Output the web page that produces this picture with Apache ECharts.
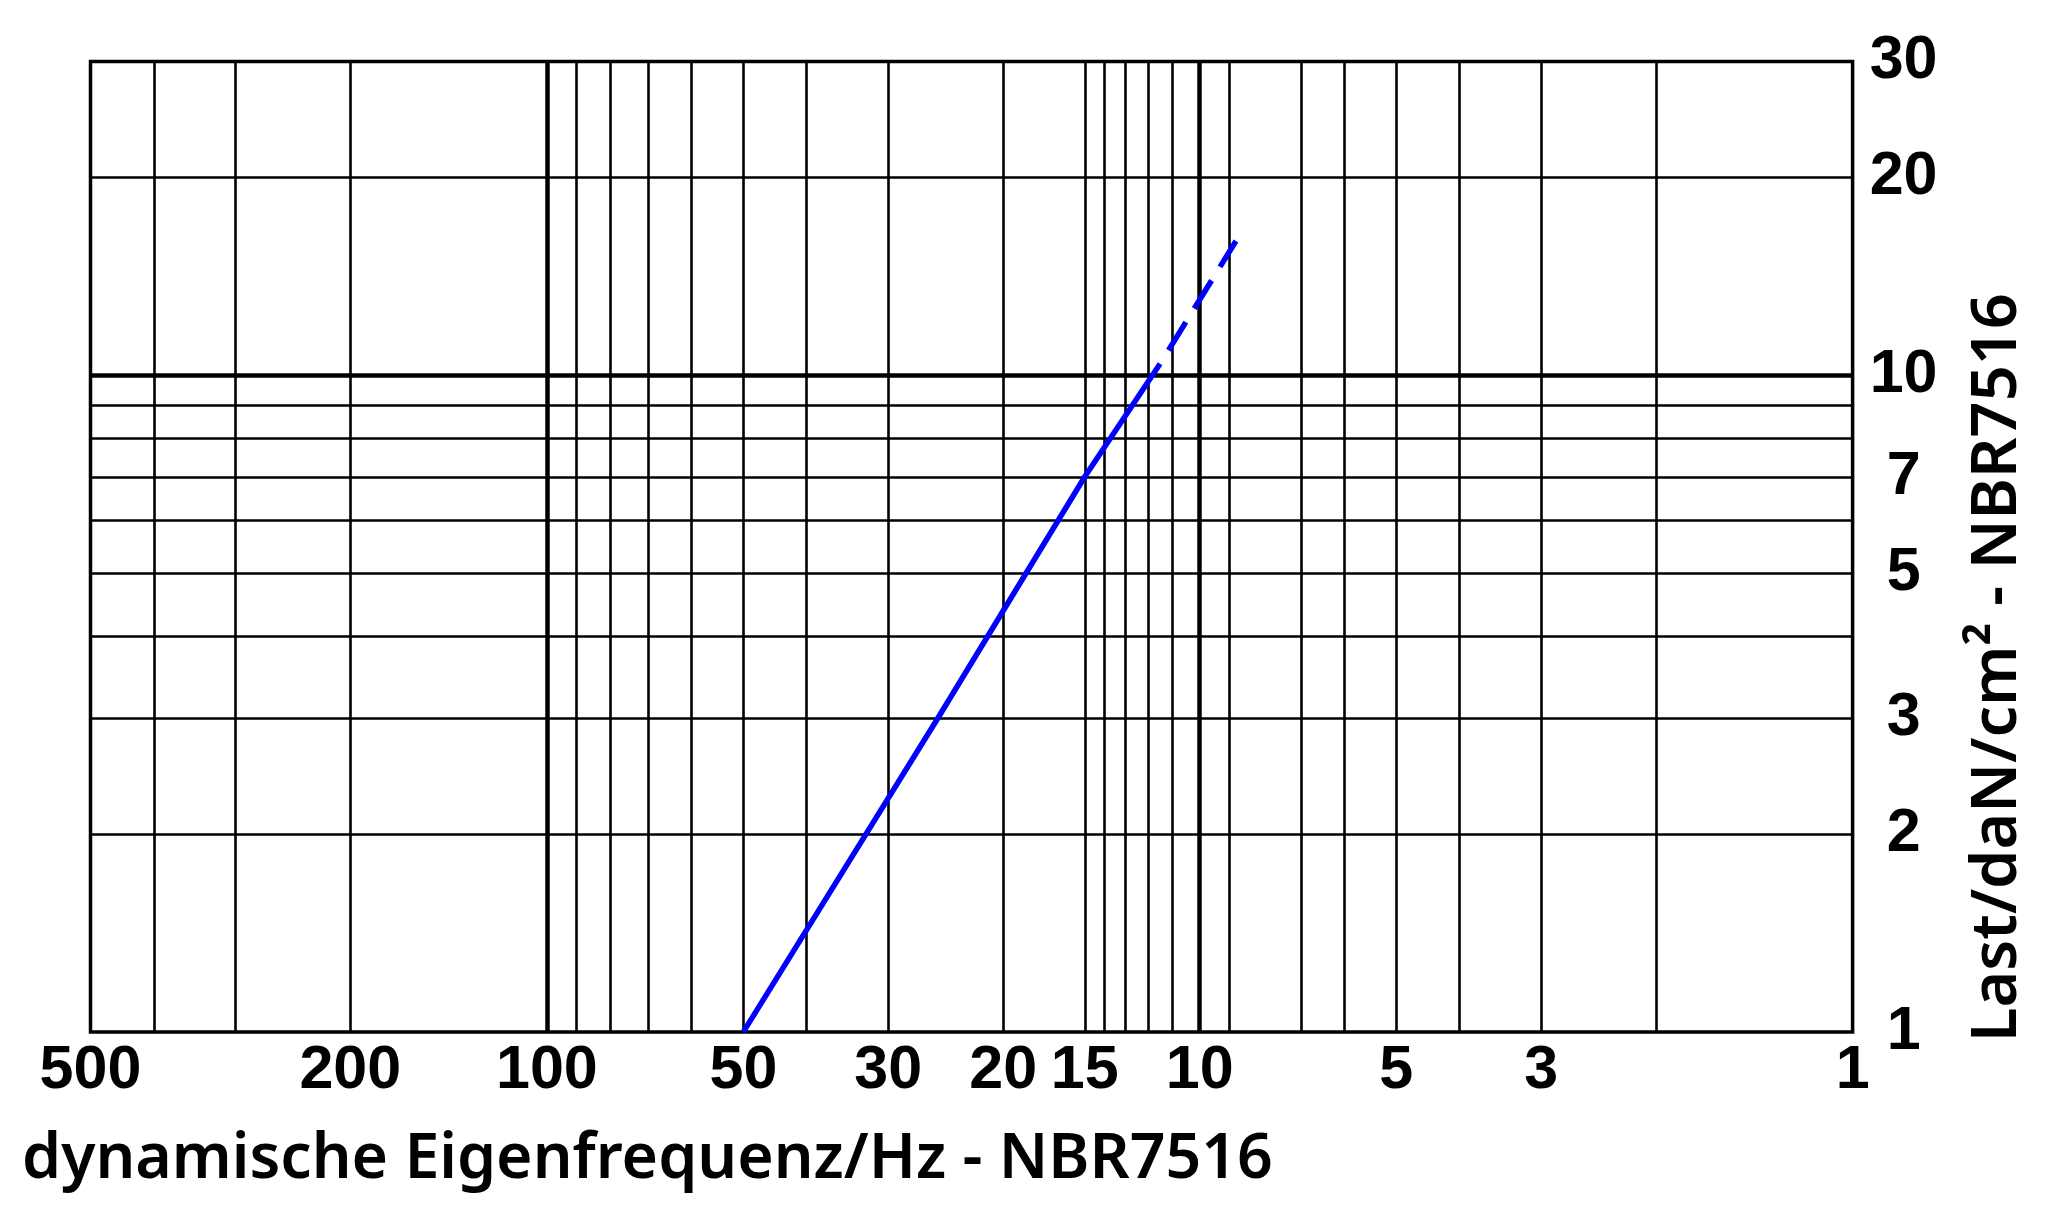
<!DOCTYPE html>
<html><head><meta charset="utf-8">
<script src="https://cdn.jsdelivr.net/npm/echarts@6/dist/echarts.min.js"></script>
<style>html,body{margin:0;padding:0;background:#fff}#c{width:2056px;height:1215px}</style>
</head><body><div id="c"></div>
<script>
// tick labels
const xTickLabels = [500, 200, 100, 50, 30, 20, 15, 10, 5, 3, 1];
const yTickLabels = [1, 2, 3, 5, 7, 10, 20, 30];
// grid line values
const xGridValues = [400, 300, 200, 100, 90, 80, 70, 60, 50, 40, 30, 20, 15, 14, 13, 12, 11, 10, 9, 7, 6, 5, 4, 3, 2];
const xGridMajor = [100, 10];
const yGridValues = [20, 10, 9, 8, 7, 6, 5, 4, 3, 2];
const yGridMajor = [10];
// curve (frequency Hz, load daN/cm²)
const solidFreq = [50, 25.2, 15, 11.5];
const solidLoad = [1, 3, 7.0, 10.4];
const dashedFreq = [11.5, 8.8];
const dashedLoad = [10.4, 16];

const xName = 'dynamische Eigenfrequenz/Hz - NBR7516';
const yName = 'Last/daN/cm² - NBR7516';

const chart = echarts.init(document.getElementById('c'), null, {renderer: 'canvas'});
const labelFont = {fontFamily: 'Liberation Sans', fontWeight: 'bold', fontSize: 61, color: '#000'};
const gridLines = [];
xGridValues.forEach(v => gridLines.push({xAxis: v, lineStyle: {width: xGridMajor.includes(v) ? 4.5 : 2.6}}));
yGridValues.forEach(v => gridLines.push({yAxis: v, lineStyle: {width: yGridMajor.includes(v) ? 4.5 : 2.6}}));

chart.setOption({
  animation: false,
  backgroundColor: '#fff',
  grid: {left: 90.5, right: 203.4, top: 61.6, bottom: 183.1, show: true, borderColor: '#000', borderWidth: 3.5, backgroundColor: 'transparent'},
  xAxis: {
    type: 'log', logBase: 10, min: 1, max: 500, inverse: true,
    axisLine: {show: false}, axisTick: {show: false}, splitLine: {show: false},
    axisLabel: Object.assign({customValues: xTickLabels, margin: 9}, labelFont)
  },
  yAxis: {
    type: 'log', logBase: 10, min: 1, max: 30, position: 'right',
    axisLine: {show: false}, axisTick: {show: false}, splitLine: {show: false},
    axisLabel: Object.assign({customValues: yTickLabels, margin: 51, align: 'center'}, labelFont)
  },
  series: [
    {
      type: 'line', data: [[50, 1]], showSymbol: false, silent: true, z: 1,
      lineStyle: {width: 0},
      markLine: {
        silent: true, z: 1, symbol: ['none', 'none'], label: {show: false},
        lineStyle: {color: '#000', type: 'solid', width: 2.6},
        emphasis: {disabled: true},
        data: gridLines
      }
    },
    {
      type: 'line', z: 3, showSymbol: false, silent: true,
      data: solidFreq.map((f, i) => [f, solidLoad[i]]),
      lineStyle: {color: '#0000ff', width: 5.5}
    },
    {
      type: 'line', z: 3, showSymbol: false, silent: true,
      data: dashedFreq.map((f, i) => [f, dashedLoad[i]]),
      lineStyle: {color: '#0000ff', width: 5.5, type: [33, 16], dashOffset: 33}
    }
  ],
  graphic: [
    {type: 'text', x: 22, y: 1160, silent: true,
     style: {text: xName, fontFamily: 'Noto Sans', fontWeight: 600, fontSize: 62.5, fill: '#000', align: 'left', verticalAlign: 'middle'}},
    {type: 'text', x: 1998, y: 1042, rotation: Math.PI / 2, silent: true,
     style: {text: yName, fontFamily: 'Noto Sans', fontWeight: 600, fontSize: 63, fill: '#000', align: 'left', verticalAlign: 'middle'}}
  ]
});
</script></body></html>
